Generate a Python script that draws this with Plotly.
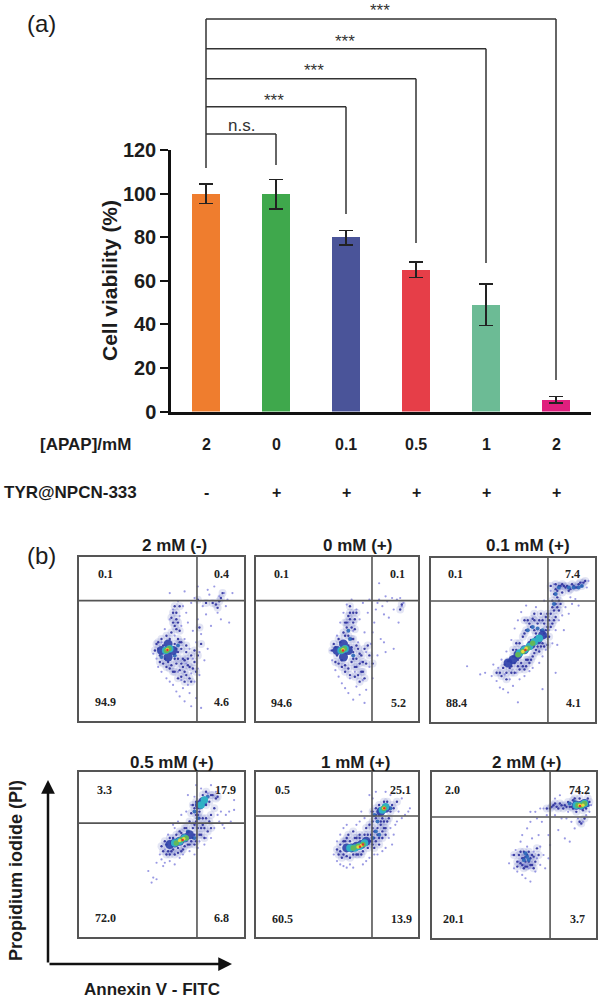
import plotly.graph_objects as go

W, H = 602, 1000
FONT = "Liberation Sans"
SERIF = "Liberation Serif"
INK = "#1c1c1c"

# ---------- panel (a) data ----------
DOSE_LABELS = ["2", "0", "0.1", "0.5", "1", "2"]
TYR_LABELS = ["-", "+", "+", "+", "+", "+"]
VIABILITY = [100, 99.7, 80, 65, 49, 5.5]
ERR_UP = [4.3, 6.8, 3.0, 3.5, 9.5, 1.5]
ERR_DOWN = [4.5, 6.7, 3.5, 3.5, 9.5, 1.5]
BAR_COLORS = ["#ef7d2e", "#3fa84c", "#4a5499", "#e63e48", "#6cbb95", "#e01f7e"]
Y_TICKS = [0, 20, 40, 60, 80, 100, 120]
BRACKET_TARGETS = [1, 2, 3, 4, 5]
BRACKET_TEXT = ["n.s.", "***", "***", "***", "***"]

# ---------- panel (b) data : events, in % of each box ----------
P1_SPARSE = [(45,41),(47,38),(48,33),(50,48),(50,30),(52,56),(53,26),(55,62),(55,24),(57,68),(57,22),(58,52),(59,18),(60,73),(60,30),(61,64),(61,15),(62,58),(62,25),(63,70),(63,20),(64,50),(64,12),(65,66),(65,35),(66,22),(66,60),(67,17),(67,44),(68,72),(68,29),(68,9),(69,55),(69,38),(70,75),(70,24),(71,48),(71,14),(72,32),(72,62),(73,42),(73,28),(74,8),(74,53),(75,70),(76,37),(77,65),(78,44),(79,77),(80,58),(82,82),(84,66),(85,76),(86,62),(88,78),(89,70),(90,74),(91,60),(78,80),(72,82),(64,79),(93,78),(55,78)]
P1_DENSE = [(48,44),(49,40),(51,46),(52,38),(54,36),(55,50),(56,34),(56,54),(57,30),(58,38),(58,58),(59,62),(59,35),(60,42),(61,31),(61,48),(62,27),(63,38),(64,30),(65,42),(66,34),(67,26),(69,32),(70,43),(59,66),(57,66),(73,57),(77,72),(81,72),(83,71),(85,73),(86,75),(87,78),(84,69),(72,74),(64,37),(68,40)]
P1_EXTRA = [(46,43),(47,47),(48,48),(49,36),(50,50),(51,35),(53,33),(53,52),(55,32),(58,47),(59,44),(60,38),(60,50),(62,35),(62,44),(63,33),(65,28),(66,38),(67,33),(68,24),(58,30),(60,26),(64,24),(61,55),(59,56),(57,60),(56,63),(60,60),(58,70),(61,70),(62,48),(65,46),(70,36),(72,40),(74,47),(71,30)]
P1_MID = [(58,40),(50,39),(60,46)]
P1_BLUE = [(50,43),(57,43),(54,47),(54,39)]
P1_CYAN = [(52.5,43),(55,44)]
P1_GREEN = [(53,43),(54.5,44)]
P1_YELLOW = [(53.6,43.6)]
P1_RED = [(53.6,43.3)]

P2_SPARSE = [(46,43),(47,37),(49,31),(50,52),(51,27),(52,60),(53,23),(54,66),(55,20),(56,71),(57,17),(57,60),(58,26),(59,74),(60,13),(60,55),(61,30),(62,68),(62,21),(63,48),(64,16),(64,62),(65,36),(66,72),(66,25),(67,11),(67,54),(68,42),(68,19),(69,66),(70,33),(70,74),(71,47),(72,26),(73,60),(74,68),(75,72),(76,74),(77,50),(78,70),(79,65),(80,76),(81,73),(82,63),(84,75),(85,68),(87,74),(88,60),(89,75),(90,70),(91,72),(76,84),(79,48),(75,40),(80,42),(85,44),(72,54)]
P2_DENSE = [(49,45),(50,40),(52,48),(53,37),(55,52),(55,34),(56,57),(57,32),(57,46),(58,62),(59,36),(59,50),(60,42),(60,66),(61,33),(62,38),(63,44),(64,35),(65,40),(66,30),(61,56),(57,52),(67,44),(63,28),(89,68),(90,71)]
P2_EXTRA = [(47,43),(48,47),(49,36),(51,50),(51,35),(53,33),(54,54),(55,30),(56,60),(58,66),(59,45),(60,38),(60,50),(62,33),(62,46),(64,41),(65,30),(66,36),(67,26),(68,35),(58,28),(61,27),(64,24),(61,62),(59,57),(55,60),(57,64),(60,60),(62,66),(58,70),(69,46),(70,40),(72,35)]
P2_MID = [(57,55),(58,50),(60,40)]
P2_BLUE = [(50,43),(57,43),(54,47),(54,39)]
P2_CYAN = [(52.5,43),(55,44)]
P2_GREEN = [(53,43),(54.5,44)]
P2_YELLOW = [(53.7,43.4)]
P2_RED = [(53.7,43)]

P3_SPARSE = [(37,28),(38,35),(40,25),(41,33),(42,21),(43,38),(44,20),(45,29),(46,43),(47,18),(48,26),(49,50),(50,22),(51,57),(52,30),(53,62),(54,26),(55,67),(57,28),(58,71),(60,31),(62,33),(64,70),(66,36),(68,40),(69,74),(70,44),(72,56),(73,80),(74,48),(75,84),(76,56),(77,47),(78,62),(80,65),(81,56),(82,70),(84,66),(85,76),(86,72),(88,75),(90,71),(92,85),(95,82),(96,86),(22,34),(30,29),(53,12),(68,20),(76,30),(33,30)]
P3_DENSE = [(42,30),(44,33),(46,30),(47,37),(49,34),(50,40),(51,36),(52,44),(53,34),(54,48),(55,36),(56,52),(57,32),(58,56),(58,38),(60,60),(60,36),(61,50),(62,63),(62,40),(63,56),(64,44),(65,60),(66,50),(66,43),(67,56),(68,48),(68,62),(69,54),(70,52),(71,58),(72,62),(73,66),(74,60),(75,68),(76,72),(74,74),(77,76),(75,78),(78,68),(79,72),(76,81),(78,83),(80,84),(82,82),(84,80),(86,84),(88,82),(90,84),(92,83),(94,86),(80,79),(73,83),(71,47),(63,66),(57,62)]
P3_EXTRA = [(40,30),(43,28),(45,35),(46,26),(48,33),(49,30),(50,44),(51,30),(52,48),(53,38),(54,32),(55,44),(56,34),(57,54),(58,34),(59,62),(59,38),(61,38),(61,58),(63,42),(63,62),(64,54),(65,46),(66,62),(67,46),(67,66),(69,46),(69,60),(70,64),(70,56),(71,66),(72,52),(73,58),(74,70),(75,62),(76,64),(77,70),(78,74),(77,80),(76,84),(79,83),(81,83),(83,83),(85,81),(87,83),(89,82),(91,85),(93,85)]
P3_MID = [(59,56),(62,58),(65,57),(68,56),(75,72),(76,78),(78,82),(84,82),(87,82),(90,82),(92,83)]
P3_BLUE = [(47,36),(50,38),(53,41),(57,44),(61,47),(65,50),(68,53)]
P3_CYAN = [(54,42),(57,44),(60,46),(63,49),(66,51)]
P3_GREEN = [(53,41),(56,43),(59,45),(62,48)]
P3_YELLOW = [(56,43),(58,45)]
P3_RED = [(57.6,43.9)]

P4_SPARSE = [(42,40),(45,36),(44,33),(47,35),(47,45),(49,50),(50,47),(51,43),(52,53),(52,45),(54,62),(55,46),(57,68),(58,44),(60,70),(61,48),(62,74),(63,50),(65,76),(67,52),(68,80),(70,50),(72,54),(73,58),(74,90),(76,56),(77,60),(78,87),(80,60),(82,66),(83,88),(84,74),(85,70),(86,76),(87,68),(88,66),(89,74),(91,76),(92,70),(94,77),(94,83),(70,85),(66,86),(71,92),(80,92),(63,60),(58,66)]
P4_DENSE = [(53,56),(54,52),(56,52),(57,60),(58,50),(60,54),(61,64),(63,53),(64,66),(66,56),(67,70),(68,58),(69,66),(70,62),(71,58),(71,70),(72,66),(73,72),(74,62),(75,68),(76,66),(77,72),(78,64),(79,70),(80,74),(82,78),(83,84),(81,86),(70,78),(72,74),(84,85),(77,88),(68,75),(80,66)]
P4_EXTRA = [(50,55),(51,52),(52,58),(53,50),(55,60),(55,50),(57,53),(59,62),(60,51),(62,63),(62,52),(64,55),(65,66),(67,56),(69,60),(70,68),(70,56),(73,62),(74,66),(75,72),(76,60),(77,80),(79,82),(80,86),(73,76),(71,74),(75,86),(69,80),(71,82)]
P4_MID = [(70,76),(72,79),(74,82),(76,84),(78,85),(72,72),(66,64),(70,60)]
P4_BLUE = [(55,56),(58,57),(61,58),(64,60),(67,62),(73,80),(75,82)]
P4_CYAN = [(58,57),(61,58),(64,60),(74,80),(76,83)]
P4_GREEN = [(59,57),(62,59),(65,60)]
P4_YELLOW = [(61,58.5),(63.5,59.5)]
P4_RED = [(62.8,58.8)]

P5_SPARSE = [(48,50),(50,46),(52,44),(54,43),(56,42),(58,44),(50,58),(52,62),(54,66),(56,68),(60,42),(62,68),(64,70),(66,44),(67,72),(68,46),(70,48),(71,76),(73,50),(75,50),(76,80),(78,52),(80,54),(70,86),(72,84),(80,88),(82,60),(83,86),(85,62),(86,68),(87,70),(88,76),(90,72),(92,74),(94,76),(95,78),(90,84),(78,60),(65,76),(74,88),(83,66),(84,56)]
P5_DENSE = [(52,52),(54,50),(55,58),(57,62),(58,48),(60,64),(62,60),(63,50),(64,62),(66,52),(66,58),(68,56),(68,66),(70,58),(70,68),(71,62),(72,70),(72,56),(73,64),(74,58),(74,72),(75,66),(76,60),(77,68),(77,70),(78,64),(79,66),(80,62),(81,70),(82,72),(76,74),(74,78),(84,80),(87,82),(73,54)]
P5_EXTRA = [(50,53),(51,50),(52,56),(53,48),(54,58),(56,49),(56,60),(58,58),(60,50),(61,60),(62,50),(64,60),(65,50),(67,62),(69,62),(69,54),(71,58),(72,66),(73,60),(75,62),(76,56),(78,60),(79,70),(80,66),(72,76),(74,74),(78,72),(83,76),(85,78),(81,82),(79,82),(76,80)]
P5_MID = [(72,60),(74,64),(76,62),(75,70),(73,74),(76,76),(83,78)]
P5_BLUE = [(56,54),(59,54),(62,55),(65,56),(68,58),(77,76),(80,78)]
P5_CYAN = [(58,54),(61,54),(64,55),(67,57),(78,77),(80,79)]
P5_GREEN = [(60,54),(63,55),(66,56),(79,78)]
P5_YELLOW = [(63,54.5),(65,55.5),(79,78)]
P5_RED = [(64.2,54.7),(66,56),(79.2,78)]

P6_SPARSE = [(47,45),(49,50),(50,42),(51,53),(52,40),(53,46),(54,58),(55,38),(55,62),(56,44),(57,36),(58,66),(58,55),(59,42),(60,34),(60,70),(61,60),(62,52),(63,40),(64,72),(64,48),(65,62),(66,55),(66,44),(67,70),(68,50),(69,42),(70,74),(71,48),(71,62),(72,56),(63,76),(60,76),(66,78),(68,78),(75,74),(77,65),(79,72),(81,60),(82,72),(84,58),(85,70),(87,66),(89,72),(92,70),(94,74),(97,80),(96,76),(75,84),(78,86),(85,87),(90,87),(94,87),(83,76)]
P6_DENSE = [(53,50),(54,45),(55,48),(56,52),(56,42),(57,46),(58,50),(59,46),(60,48),(61,44),(62,49),(64,54),(58,43),(74,80),(76,79),(78,81),(80,78),(81,80),(83,82),(85,79),(86,83),(94,78),(96,82),(90,70),(91,69),(93,72),(72,78)]
P6_EXTRA = [(50,50),(52,46),(54,52),(55,44),(56,48),(57,43),(57,49),(59,52),(60,44),(61,50),(63,46),(65,50),(62,42),(52,43),(75,81),(77,78),(79,80),(82,79),(84,79),(86,78),(88,76),(92,77),(95,84),(90,84),(87,84),(73,79),(70,78)]
P6_MID = [(56,47),(58,49),(59,47),(57,51),(84,81),(87,82),(95,80)]
P6_BLUE = [(88,80),(91,80),(93,81)]
P6_CYAN = [(88,80),(91,80),(93,81)]
P6_GREEN = [(89,80),(91,80),(93,81)]
P6_YELLOW = [(90,80),(92,80)]
P6_RED = [(90.2,79.5)]

TITLES = ["2 mM (-)", "0 mM (+)", "0.1 mM (+)", "0.5 mM (+)", "1 mM (+)", "2 mM (+)"]
QUAD_UL = ["0.1", "0.1", "0.1", "3.3", "0.5", "2.0"]
QUAD_UR = ["0.4", "0.1", "7.4", "17.9", "25.1", "74.2"]
QUAD_LL = ["94.9", "94.6", "88.4", "72.0", "60.5", "20.1"]
QUAD_LR = ["4.6", "5.2", "4.1", "6.8", "13.9", "3.7"]
GATE_X = [71.5, 71.6, 71.3, 71.5, 71.6, 72.0]
GATE_Y = [73.4, 73.4, 73.8, 69.0, 73.3, 72.9]

EVENTS = [
    [P1_DENSE + P1_EXTRA, P1_SPARSE, P1_DENSE + P1_EXTRA, P1_MID, P1_BLUE, P1_CYAN, P1_GREEN, P1_YELLOW, P1_RED],
    [P2_DENSE + P2_EXTRA, P2_SPARSE, P2_DENSE + P2_EXTRA, P2_MID, P2_BLUE, P2_CYAN, P2_GREEN, P2_YELLOW, P2_RED],
    [P3_DENSE + P3_EXTRA, P3_SPARSE, P3_DENSE + P3_EXTRA, P3_MID, P3_BLUE, P3_CYAN, P3_GREEN, P3_YELLOW, P3_RED],
    [P4_DENSE + P4_EXTRA, P4_SPARSE, P4_DENSE + P4_EXTRA, P4_MID, P4_BLUE, P4_CYAN, P4_GREEN, P4_YELLOW, P4_RED],
    [P5_DENSE + P5_EXTRA, P5_SPARSE, P5_DENSE + P5_EXTRA, P5_MID, P5_BLUE, P5_CYAN, P5_GREEN, P5_YELLOW, P5_RED],
    [P6_DENSE + P6_EXTRA, P6_SPARSE, P6_DENSE + P6_EXTRA, P6_MID, P6_BLUE, P6_CYAN, P6_GREEN, P6_YELLOW, P6_RED],
]

# ---------- layout geometry (pixels) ----------
TIER_STYLE = [("#3b44b0", 8, 0.14), ("#8080dc", 2.2, 0.8), ("#2b2f9c", 2.4, 0.9), ("#2a66b8", 4.0, 0.9),
              ("#2c3fa8", 9, 0.9), ("#30b0c4", 7.5, 1), ("#62b85a", 5.5, 1),
              ("#e6d93c", 3.5, 1), ("#e8302a", 2.5, 1)]
BOXES = [(79, 244, 557, 721), (256, 418, 557, 721), (431, 595, 558, 722),
         (79, 244, 772, 937), (256, 418, 772, 937), (432, 596, 772, 938)]
TITLE_POS = [(174, 545), (357, 545), (528, 545), (172, 762), (355, 762), (526, 762)]
UL_POS = [(105, 574), (281, 574), (455, 574), (104, 790), (282, 790), (452, 790)]
UR_POS = [(221, 574), (397, 574), (572, 574), (225, 790), (400, 790), (579, 790)]
LL_POS = [(105, 702), (281, 703), (456, 703), (105, 918), (282, 919), (453, 919)]
LR_POS = [(222, 702), (398, 703), (573, 703), (222, 918), (401, 919), (577, 919)]
BAR_X0, BAR_X1, BAR_TOP, BAR_BOT = 171, 591, 150, 411.5
BRACKET_Y = [134, 106.7, 78.7, 48.7, 19]
BRACKET_END = [165, 214, 243, 263, 380]
LABEL_POS = [(241.5, 125), (273.5, 100), (314, 71), (345, 41), (380, 10)]
Y_OFFSET, Y_SPAN = 11, 978


def fx(px):
    return px / W


def fy(py):
    return 1 - (py - Y_OFFSET) / Y_SPAN


def text(px, py, s, size=14, bold=False, family=FONT, color=INK, angle=0, anchor="center"):
    return dict(x=fx(px), y=fy(py), xref="paper", yref="paper", text=s, showarrow=False,
                xanchor=anchor, yanchor="middle", textangle=angle,
                font=dict(family=family, size=size, color=color, weight=700 if bold else 400))


fig = go.Figure()
positions = list(range(len(VIABILITY)))
fig.add_trace(go.Bar(
    x=positions, y=VIABILITY, width=0.4, marker=dict(color=BAR_COLORS, line=dict(width=0)),
    error_y=dict(type="data", symmetric=False, array=ERR_UP, arrayminus=ERR_DOWN,
                 color="#222222", thickness=1.5, width=7),
    showlegend=False, xaxis="x", yaxis="y"))

layout_axes = dict(
    xaxis=dict(domain=[fx(BAR_X0), fx(BAR_X1)], range=[-0.5, 5.5], showgrid=False, zeroline=False,
               showticklabels=False, ticks="", showline=True, linecolor="#111111", linewidth=3,
               anchor="y"),
    yaxis=dict(domain=[fy(BAR_BOT), fy(BAR_TOP)], range=[0, 120], tickvals=Y_TICKS, showgrid=False,
               zeroline=False, ticks="outside", ticklen=8, tickwidth=2, tickcolor="#111111",
               showline=True, linecolor="#111111", linewidth=2.5, anchor="x",
               tickfont=dict(family=FONT, size=20, color=INK, weight=700)),
)

for i, (box, tiers) in enumerate(zip(BOXES, EVENTS)):
    ax = i + 2
    xa, ya = f"x{ax}", f"y{ax}"
    for pts, (col, size, op) in zip(tiers, TIER_STYLE):
        fig.add_trace(go.Scatter(
            x=[p[0] for p in pts], y=[p[1] for p in pts], mode="markers", showlegend=False,
            marker=dict(color=col, size=size, opacity=op, line=dict(width=0)), xaxis=xa, yaxis=ya))
    fig.add_trace(go.Scatter(x=[GATE_X[i], GATE_X[i]], y=[0, 100], mode="lines", showlegend=False,
                             line=dict(color="#555555", width=1.6), xaxis=xa, yaxis=ya))
    fig.add_trace(go.Scatter(x=[0, 100], y=[GATE_Y[i], GATE_Y[i]], mode="lines", showlegend=False,
                             line=dict(color="#555555", width=1.6), xaxis=xa, yaxis=ya))
    l, r, t, b = box
    common = dict(range=[0, 100], showgrid=False, zeroline=False, showticklabels=False, ticks="",
                  showline=True, mirror=True, linecolor="#555555", linewidth=2)
    layout_axes[f"xaxis{ax}"] = dict(domain=[fx(l), fx(r)], anchor=ya, **common)
    layout_axes[f"yaxis{ax}"] = dict(domain=[fy(b), fy(t)], anchor=xa, **common)

annotations = [
    text(41, 24, "(a)", size=24), text(41, 555, "(b)", size=24),
    text(110, 281, "Cell viability (%)", size=21, bold=True, angle=-90),
    text(133, 444, "[APAP]/mM", size=17, bold=True, anchor="right"),
    text(139, 492, "TYR@NPCN-333", size=17, bold=True, anchor="right"),
    text(152, 989, "Annexin V - FITC", size=17, bold=True),
    text(16, 871, "Propidium iodide (PI)", size=18, bold=True, angle=-90),
]
for i, (d, s) in enumerate(zip(DOSE_LABELS, TYR_LABELS)):
    cx = BAR_X0 + (i + 0.5) * (BAR_X1 - BAR_X0) / 6
    annotations.append(text(cx, 444, d, size=16, bold=True))
    annotations.append(text(cx, 492, s, size=16, bold=True))
for (px, py), s in zip(LABEL_POS, BRACKET_TEXT):
    annotations.append(text(px, py, s, size=17, color="#333333"))
for i in range(6):
    annotations.append(text(*TITLE_POS[i], TITLES[i], size=17, bold=True))
    for pos, labels in ((UL_POS, QUAD_UL), (UR_POS, QUAD_UR), (LL_POS, QUAD_LL), (LR_POS, QUAD_LR)):
        annotations.append(text(*pos[i], labels[i], size=12, bold=True, family=SERIF, color="#222222"))
# axis arrows (tail offset in pixels from the head)
for (x0, y0, x1, y1) in ((48, 964, 48, 780), (48, 964, 232, 964)):
    annotations.append(dict(x=fx(x1), y=fy(y1), ax=x0 - x1, ay=y0 - y1, xref="paper", yref="paper",
                            axref="pixel", ayref="pixel", text="", showarrow=True, arrowhead=2,
                            arrowsize=1.1, arrowwidth=2.5, arrowcolor="#111111"))

shapes = []
line = dict(color="#333333", width=1.5)
shapes.append(dict(type="line", xref="x", yref="paper", x0=0, x1=0, y0=fy(BRACKET_Y[-1]), y1=fy(168), line=line))
for tgt, by, end in zip(BRACKET_TARGETS, BRACKET_Y, BRACKET_END):
    shapes.append(dict(type="line", xref="x", yref="paper", x0=0, x1=tgt, y0=fy(by), y1=fy(by), line=line))
    shapes.append(dict(type="line", xref="x", yref="paper", x0=tgt, x1=tgt, y0=fy(by), y1=fy(end), line=line))

fig.update_layout(width=W, height=H, margin=dict(l=0, r=0, t=0, b=0), autosize=False,
                  paper_bgcolor="white", plot_bgcolor="white", showlegend=False, bargap=0,
                  annotations=annotations, shapes=shapes, **layout_axes)
fig.write_html("out.html", config={"displayModeBar": False}, post_script="document.body.style.margin='0';")
